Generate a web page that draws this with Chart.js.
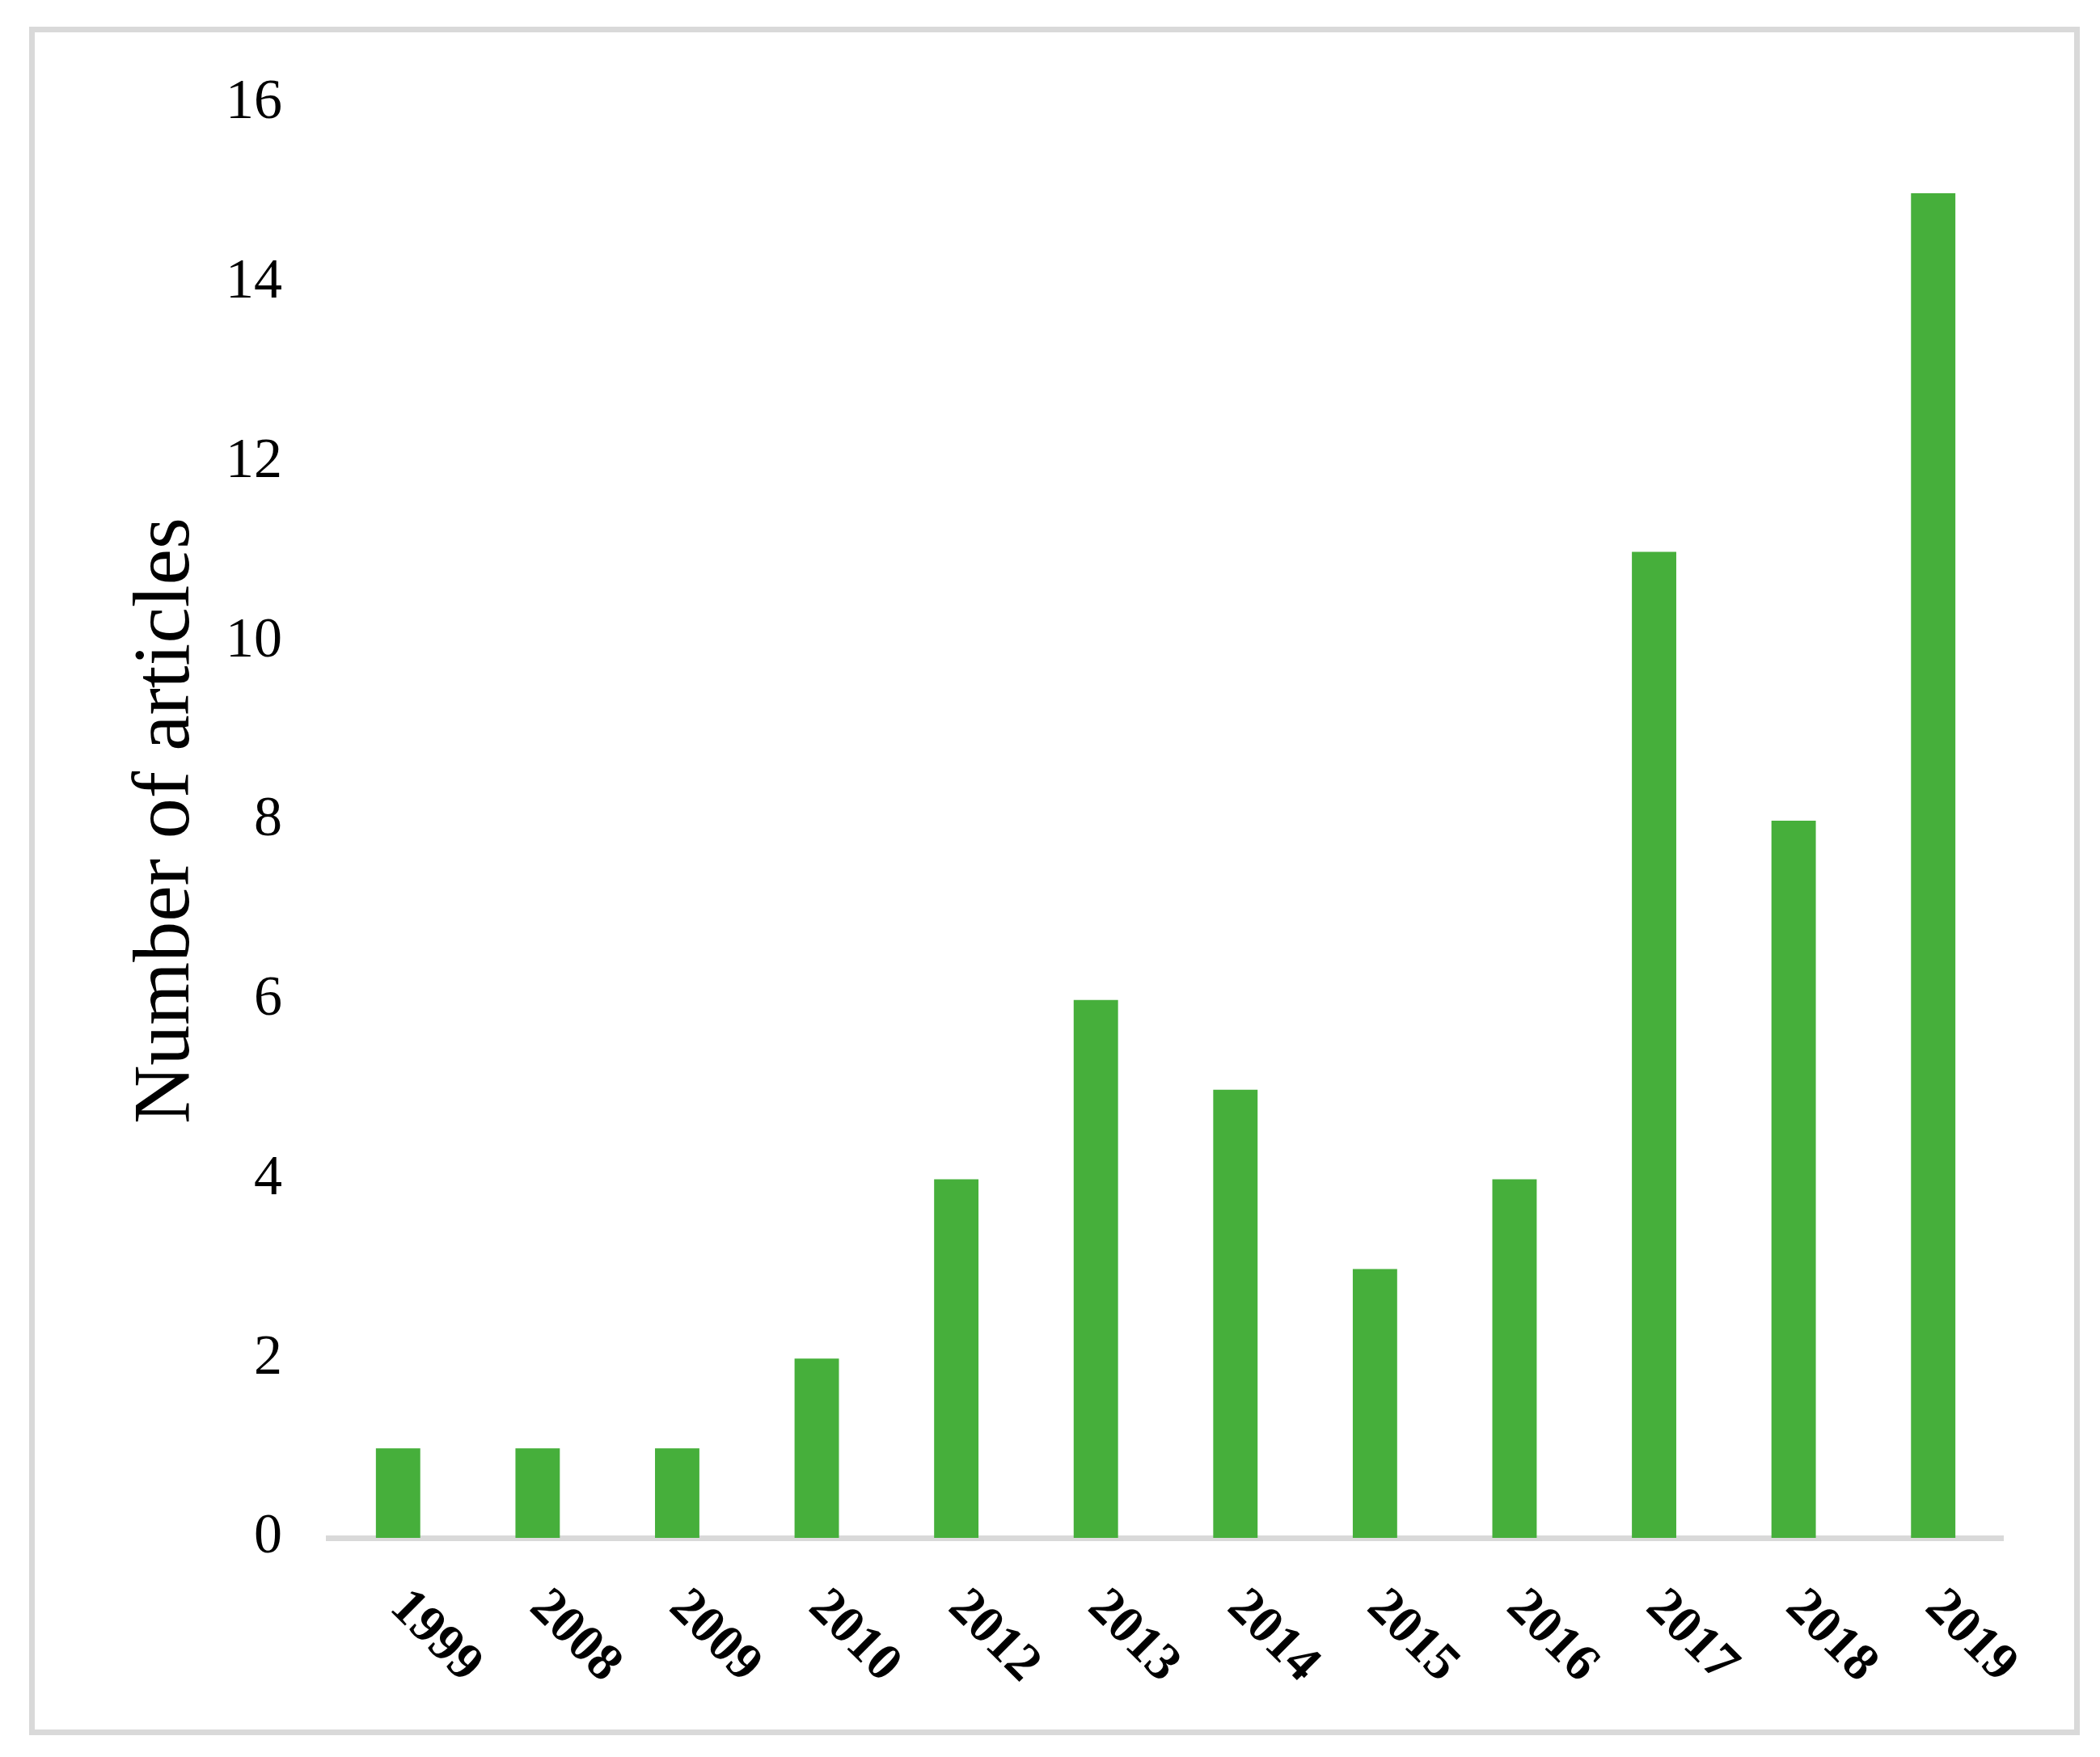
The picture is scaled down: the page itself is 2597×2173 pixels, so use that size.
<!DOCTYPE html>
<html>
<head>
<meta charset="utf-8">
<script src="https://cdn.jsdelivr.net/npm/chart.js@4/dist/chart.umd.min.js"></script>
<style>
  html, body { margin: 0; padding: 0; background: #fff; overflow: hidden; }
  canvas { display: block; }
</style>
</head>
<body>
<canvas id="articlesChart" width="2597" height="2173"></canvas>
<script>
// data
const years = ['1999', '2008', '2009', '2010', '2012', '2013', '2014', '2015', '2016', '2017', '2018', '2019'];
const articles = [1, 1, 1, 2, 4, 6, 5, 3, 4, 11, 8, 15];
const yTicks = [0, 2, 4, 6, 8, 10, 12, 14, 16];

const serif = '"Liberation Serif", "Times New Roman", serif';

// white page + light grey frame round the whole figure
const framePlugin = {
  id: 'frame',
  beforeDraw(chart) {
    const ctx = chart.ctx;
    ctx.save();
    ctx.fillStyle = '#ffffff';
    ctx.fillRect(0, 0, chart.width, chart.height);
    ctx.strokeStyle = '#d9d9d9';
    ctx.lineWidth = 7;
    ctx.strokeRect(39.5, 36.5, 2529, 2106);
    ctx.restore();
  }
};

// year labels hang down-right from each tick (Chart.js only tilts them the other way)
const yearLabels = {
  id: 'yearLabels',
  afterDraw(chart) {
    const xs = chart.scales.x;
    const ctx = chart.ctx;
    ctx.save();
    ctx.font = 'bold 65px ' + serif;
    ctx.fillStyle = '#000';
    ctx.textAlign = 'left';
    ctx.textBaseline = 'alphabetic';
    years.forEach((label, i) => {
      const px = xs.getPixelForTick(i);
      ctx.save();
      ctx.translate(px - 12, xs.top + 88);
      ctx.rotate(Math.PI / 4);
      ctx.fillText(label, 0, 0);
      ctx.restore();
    });
    ctx.restore();
  }
};

new Chart(document.getElementById('articlesChart'), {
  type: 'bar',
  data: {
    labels: years,
    datasets: [{
      label: 'Number of articles',
      data: articles,
      backgroundColor: '#46af3b',
      borderWidth: 0,
      barPercentage: 0.318,
      categoryPercentage: 1
    }]
  },
  options: {
    responsive: false,
    animation: false,
    devicePixelRatio: 1,
    layout: { padding: { left: 0, right: 120, top: 128, bottom: 0 } },
    plugins: {
      legend: { display: false },
      tooltip: { enabled: false }
    },
    scales: {
      x: {
        offset: true,
        z: 1,
        grid: { display: false, drawTicks: false },
        border: { display: true, color: '#d9d9d9', width: 7 },
        ticks: { display: false },
        afterFit: s => { s.height = 271; }
      },
      y: {
        min: 0,
        max: 16,
        grid: { display: false, drawTicks: false },
        border: { display: false },
        afterBuildTicks: s => { s.ticks = yTicks.map(v => ({ value: v })); },
        afterFit: s => { s.width = 406; },
        ticks: {
          padding: 57,
          color: '#000',
          font: { family: serif, size: 70 }
        },
        title: {
          display: true,
          text: 'Number of articles',
          color: '#000',
          padding: { top: 147, bottom: 0 },
          font: { family: serif, size: 100 }
        }
      }
    }
  },
  plugins: [framePlugin, yearLabels]
});
</script>
</body>
</html>
